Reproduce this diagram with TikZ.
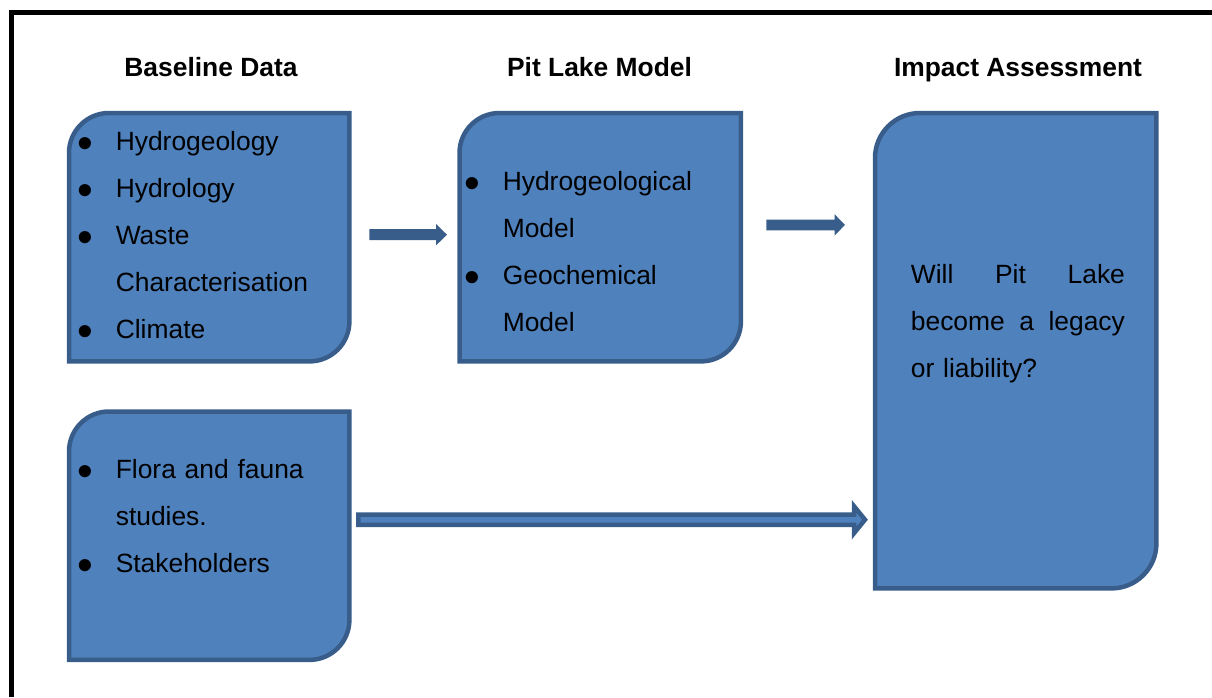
\documentclass[tikz,border=0pt]{standalone}
\usepackage{fontspec}
\setmainfont{Liberation Sans}
\usepackage{graphicx}
\usepackage{tikz}
\usepackage{xcolor}
\usetikzlibrary{calc,positioning}

\definecolor{panelblue}{HTML}{4F81BD}
\definecolor{edgeblue}{HTML}{385D8A}

% bullet and hanging indent for the lists
\newcommand{\itemdot}{\makebox[38.6pt][l]{\raisebox{-8.1pt}{\scalebox{1.7}{\textbullet}}}}
\newcommand{\itemgap}{\hspace*{38.6pt}}

% box with round top left and bottom right corners, drawn over an empty node
\newcommand{\diagpanel}[2]{%
  \filldraw[panel edge] ([yshift=-#2]#1.north west) arc[start angle=180,end angle=90,radius=#2]
    -- (#1.north east) -- ([yshift=#2]#1.south east) arc[start angle=0,end angle=-90,radius=#2]
    -- (#1.south west) -- cycle;}

% block arrow: style, start, tip, half shaft, half head, head length
\newcommand{\blockarrow}[6]{%
  \filldraw[#1] ($(#2)+(0,#4)$) -- ($(#3)+(-#6,#4)$) -- ($(#3)+(-#6,#5)$) -- (#3)
    -- ($(#3)+(-#6,-#5)$) -- ($(#3)+(-#6,-#4)$) -- ($(#2)+(0,-#4)$) -- cycle;}

\begin{document}
\begin{tikzpicture}[x=1pt,y=-1pt,
    panel/.style={inner sep=0pt, anchor=north west, minimum height=248pt},
    panel edge/.style={fill=panelblue, draw=edgeblue, line width=4.5pt},
    heading/.style={anchor=base, inner sep=0pt, font=\bfseries\fontsize{26.4}{30}\selectfont},
    list/.style={anchor=base west, inner sep=0pt, text width=250pt, align=left,
                 font=\fontsize{26.4}{47}\selectfont},
    flat arrow/.style={fill=edgeblue, draw=none},
    long arrow/.style={fill=panelblue, draw=edgeblue, line width=4.5pt}]
    \useasboundingbox (0,0) rectangle (1212,697);

    % page frame
    \draw[line width=4.5pt] (11.7,697) -- (11.7,12.5) -- (1212,12.5);

    % column headings
    \node[heading] (hbase) at (211,76) {Baseline Data};
    \node[heading] (hmodel) at (599.5,76) {Pit Lake Model};
    \node[heading] (himpact) at (1018,76.7) {Impact Assessment};

    % boxes
    \node[panel, minimum width=280pt] (baseline) at (69,113) {};
    \node[panel, minimum width=281pt] (pitmodel) at (459.5,113) {};
    \node[panel, minimum width=281pt, minimum height=475pt] (impact) at (875,113) {};
    \node[panel, minimum width=280pt] (ecology) at (69,411.5) {};
    \diagpanel{baseline}{40pt}
    \diagpanel{pitmodel}{40pt}
    \diagpanel{impact}{45pt}
    \diagpanel{ecology}{40pt}

    % box texts
    \node[list] (lbase) at (77,150.7)
        {\itemdot Hydrogeology\\ \itemdot Hydrology\\ \itemdot Waste\\
         \itemgap Characterisation\\ \itemdot Climate};
    \node[list] (lmodel) at (464,190.7)
        {\itemdot Hydrogeological\\ \itemgap Model\\ \itemdot Geochemical\\ \itemgap Model};
    \node[list] (lecology) at (77,478.3)
        {\itemdot Flora and fauna\\ \itemgap studies.\\ \itemdot Stakeholders};
    \node[list, text width=220pt] (limpact) at (910.7,283.3)
        {\makebox[214pt][l]{Will\hfill Pit\hfill Lake}\\
         \makebox[214pt][l]{become\hfill a\hfill legacy}\\ or liability?};

    % arrows
    \coordinate (a1s) at ([xshift=20pt,yshift=2.5pt]baseline.east);
    \coordinate (a1e) at ($(a1s -| pitmodel.west)+(-12.5,0)$);
    \coordinate (a2s) at ([xshift=25.5pt,yshift=12.3pt]pitmodel.east);
    \coordinate (a2e) at ($(a2s -| impact.west)+(-30,0)$);
    \coordinate (a3s) at ([xshift=9pt,yshift=16pt]ecology.east);
    \coordinate (a3e) at ($(a3s -| impact.west)+(-10,0)$);
    \blockarrow{flat arrow}{a1s}{a1e}{5.5}{10.7}{11}
    \blockarrow{flat arrow}{a2s}{a2e}{5.4}{10.7}{10.5}
    \blockarrow{long arrow}{a3s}{a3e}{5.2}{13.5}{11}
\end{tikzpicture}
\end{document}
